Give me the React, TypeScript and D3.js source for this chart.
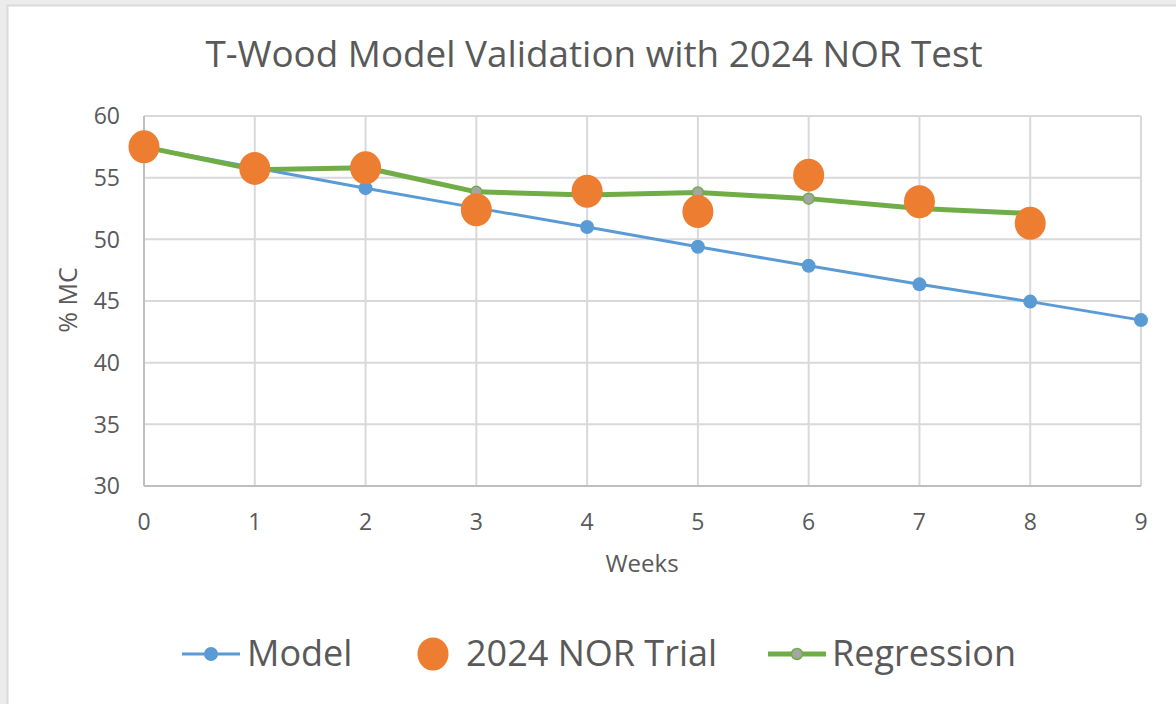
import React from "react";
import * as d3 from "d3";

// weeks on the x axis
const weeks = [0, 1, 2, 3, 4, 5, 6, 7, 8, 9];
const yTicks = [30, 35, 40, 45, 50, 55, 60];

// series values (% MC)
const modelValues = [57.5, 55.8, 54.15, 52.55, 51.0, 49.4, 47.85, 46.35, 44.95, 43.45];
const trialValues = [57.5, 55.75, 55.8, 52.4, 53.9, 52.25, 55.2, 53.05, 51.3];
const regressionValues = [57.5, 55.65, 55.8, 53.85, 53.6, 53.8, 53.3, 52.5, 52.1];

const W = 1176;
const H = 704;
const FONT = "'Open Sans', 'DejaVu Sans', sans-serif";
const TEXT = "#595959";

const x = d3.scaleLinear().domain([0, 9]).range([144, 1141]);
const y = d3.scaleLinear().domain([30, 60]).range([486, 116]);

const line = d3
  .line<number>()
  .x((d, i) => x(weeks[i]))
  .y((d) => y(d));

export default function App() {
  return (
    <svg
      width={W}
      height={H}
      style={{ position: "absolute", left: 0, top: 0, background: "#ececec" }}
      fontFamily={FONT}
    >
      {/* chart frame */}
      <rect x={7.5} y={5.5} width={W} height={H} fill="#fff" stroke="#d9d9d9" strokeWidth={2} />

      <text x={594} y={67} textAnchor="middle" fontSize={36.8} fill={TEXT}>
        T-Wood Model Validation with 2024 NOR Test
      </text>

      {/* gridlines */}
      {yTicks.map((t) => (
        <line key={"h" + t} x1={x(0)} x2={x(9)} y1={y(t)} y2={y(t)} stroke="#d9d9d9" strokeWidth={2} />
      ))}
      {weeks.map((w) => (
        <line key={"v" + w} x1={x(w)} x2={x(w)} y1={y(60)} y2={y(30)} stroke="#d9d9d9" strokeWidth={2} />
      ))}
      {/* axis lines */}
      <line x1={x(0)} x2={x(9)} y1={y(30)} y2={y(30)} stroke="#bfbfbf" strokeWidth={2} />
      <line x1={x(0)} x2={x(0)} y1={y(60)} y2={y(30)} stroke="#bfbfbf" strokeWidth={2} />

      {yTicks.map((t) => (
        <text key={"yl" + t} x={120} y={y(t)} dy="0.36em" textAnchor="end" fontSize={23} fill={TEXT}>
          {t}
        </text>
      ))}
      {weeks.map((w) => (
        <text key={"xl" + w} x={x(w)} y={530} textAnchor="middle" fontSize={23} fill={TEXT}>
          {w}
        </text>
      ))}

      <text x={642} y={572} textAnchor="middle" fontSize={24} fill={TEXT}>
        Weeks
      </text>
      <text
        transform="translate(77,300) rotate(-90)"
        textAnchor="middle"
        fontSize={25}
        fill={TEXT}
      >
        % MC
      </text>

      {/* Model */}
      <path d={line(modelValues) || ""} fill="none" stroke="#5b9bd5" strokeWidth={3} />
      {modelValues.map((v, i) => (
        <circle key={"m" + i} cx={x(weeks[i])} cy={y(v)} r={7} fill="#5b9bd5" />
      ))}

      {/* Regression */}
      <path d={line(regressionValues) || ""} fill="none" stroke="#70ad47" strokeWidth={5} strokeLinejoin="round" />
      {regressionValues.map((v, i) => (
        <circle key={"r" + i} cx={x(weeks[i])} cy={y(v)} r={5.5} fill="#a5a5a5" stroke="#70ad47" strokeWidth={1.5} />
      ))}

      {/* 2024 NOR Trial */}
      {trialValues.map((v, i) => (
        <ellipse key={"t" + i} cx={x(weeks[i])} cy={y(v)} rx={15.5} ry={16.5} fill="#ed7d31" />
      ))}

      {/* legend */}
      <g fontSize={36} fill={TEXT}>
        <line x1={182} x2={240} y1={654} y2={654} stroke="#5b9bd5" strokeWidth={3} />
        <circle cx={211} cy={654} r={7} fill="#5b9bd5" />
        <text x={247} y={666}>Model</text>

        <ellipse cx={433} cy={654} rx={15.5} ry={16.5} fill="#ed7d31" />
        <text x={466} y={666}>2024 NOR Trial</text>

        <line x1={768} x2={826} y1={654} y2={654} stroke="#70ad47" strokeWidth={5} />
        <circle cx={797} cy={654} r={5.5} fill="#a5a5a5" stroke="#70ad47" strokeWidth={1.5} />
        <text x={832} y={666}>Regression</text>
      </g>
    </svg>
  );
}
